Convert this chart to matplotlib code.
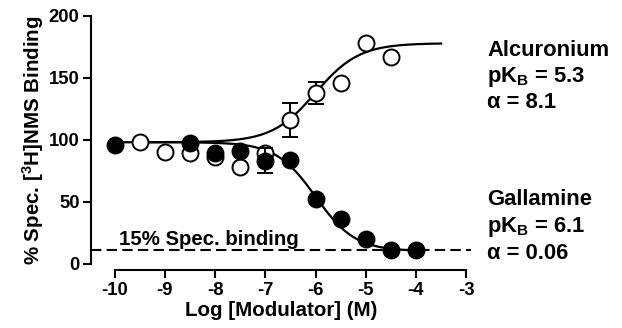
import matplotlib
matplotlib.use("Agg")
import matplotlib.pyplot as plt
import numpy as np

plt.rcParams['font.family'] = ['Liberation Sans', 'DejaVu Sans']
plt.rcParams['font.weight'] = 'bold'
plt.rcParams['axes.unicode_minus'] = False
plt.rcParams['mathtext.fontset'] = 'custom'
plt.rcParams['mathtext.rm'] = 'Liberation Sans:bold'
plt.rcParams['mathtext.it'] = 'Liberation Sans:bold'
plt.rcParams['mathtext.bf'] = 'Liberation Sans:bold'
plt.rcParams['mathtext.default'] = 'rm'

# data
gall_x = [-10, -8.5, -8, -7.5, -7, -6.5, -6, -5.5, -5, -4.5, -4]
gall_y = [96, 97, 89, 91, 83, 84, 52, 36, 20, 11, 11]
gall_err = [0, 0, 0, 0, 10, 0, 0, 0, 0, 0, 0]

alc_x = [-9.5, -9, -8.5, -8, -7.5, -7, -6.5, -6, -5.5, -5, -4.5]
alc_y = [98, 90, 89, 86, 78, 89, 116, 138, 146, 178, 167]
alc_err = [0, 0, 0, 0, 0, 0, 14, 9, 0, 0, 0]

# fitted curve parameters (bottom, top, logEC50, hill) and ranges
alc_fit = (98, 178, -6.0, 1.0)
alc_range = (-9.5, -3.5)
gall_fit = (98, 10, -6.0, 1.1)
gall_range = (-10, -4)

baseline = 11  # 15% spec. binding

def hill(x, bottom, top, logec, h):
    return bottom + (top - bottom) / (1 + 10 ** ((logec - x) * h))

fig = plt.figure(figsize=(6.22, 3.28), dpi=100)
ax = fig.add_axes([90.7 / 622, 64.5 / 328, 380.5 / 622, 247.5 / 328])

xa = np.linspace(*alc_range, 200)
xg = np.linspace(*gall_range, 200)
ax.plot(xa, hill(xa, *alc_fit), color='black', lw=1.6, zorder=2)
ax.plot(xg, hill(xg, *gall_fit), color='black', lw=1.6, zorder=2)

ax.axhline(baseline, color='black', lw=1.5, ls=(0, (5, 2.5)), zorder=1, clip_on=False)
ax.text(-8.12, 15, '15% Spec. binding', ha='center', va='baseline', fontsize=14.7)

ax.errorbar(alc_x, alc_y, yerr=alc_err, fmt='o', color='black', mfc='white',
            mec='black', mew=1.4, ms=11.5, capsize=6, elinewidth=1.4, capthick=1.4,
            zorder=3, clip_on=False)
ax.errorbar(gall_x, gall_y, yerr=gall_err, fmt='o', color='black', mfc='black',
            mec='black', mew=1.4, ms=11.5, capsize=6, elinewidth=1.4, capthick=1.4,
            zorder=4, clip_on=False)

ax.set_xlim(-10.48, -2.9)
ax.set_ylim(0, 200)
ax.set_xticks(range(-10, -2))
ax.set_yticks([0, 50, 100, 150, 200])
for s in ['top', 'right']:
    ax.spines[s].set_visible(False)
ax.spines['bottom'].set_position(('outward', 5))
ax.spines['bottom'].set_bounds(-10, -3)
for s in ['left', 'bottom']:
    ax.spines[s].set_linewidth(1.5)
ax.tick_params(width=1.5, length=6, labelsize=13.3, pad=2)
ax.set_xlabel('Log [Modulator] (M)', fontsize=14.8, fontweight='bold', labelpad=2)
ax.set_ylabel('% Spec. [$^{3}$H]NMS Binding', fontsize=14.8, fontweight='bold', labelpad=2)

tx = 487 / 622
fs = 15.8
fig.text(tx, 1 - 56 / 328, 'Alcuronium', fontsize=fs, va='baseline')
fig.text(tx, 1 - 82 / 328, 'pK$_{B}$ = 5.3', fontsize=fs, va='baseline')
fig.text(tx, 1 - 108 / 328, '\u03b1 = 8.1', fontsize=fs, va='baseline')
fig.text(tx, 1 - 205 / 328, 'Gallamine', fontsize=fs, va='baseline')
fig.text(tx, 1 - 232 / 328, 'pK$_{B}$ = 6.1', fontsize=fs, va='baseline')
fig.text(tx, 1 - 259 / 328, '\u03b1 = 0.06', fontsize=fs, va='baseline')

fig.savefig('out.png', dpi=100)
